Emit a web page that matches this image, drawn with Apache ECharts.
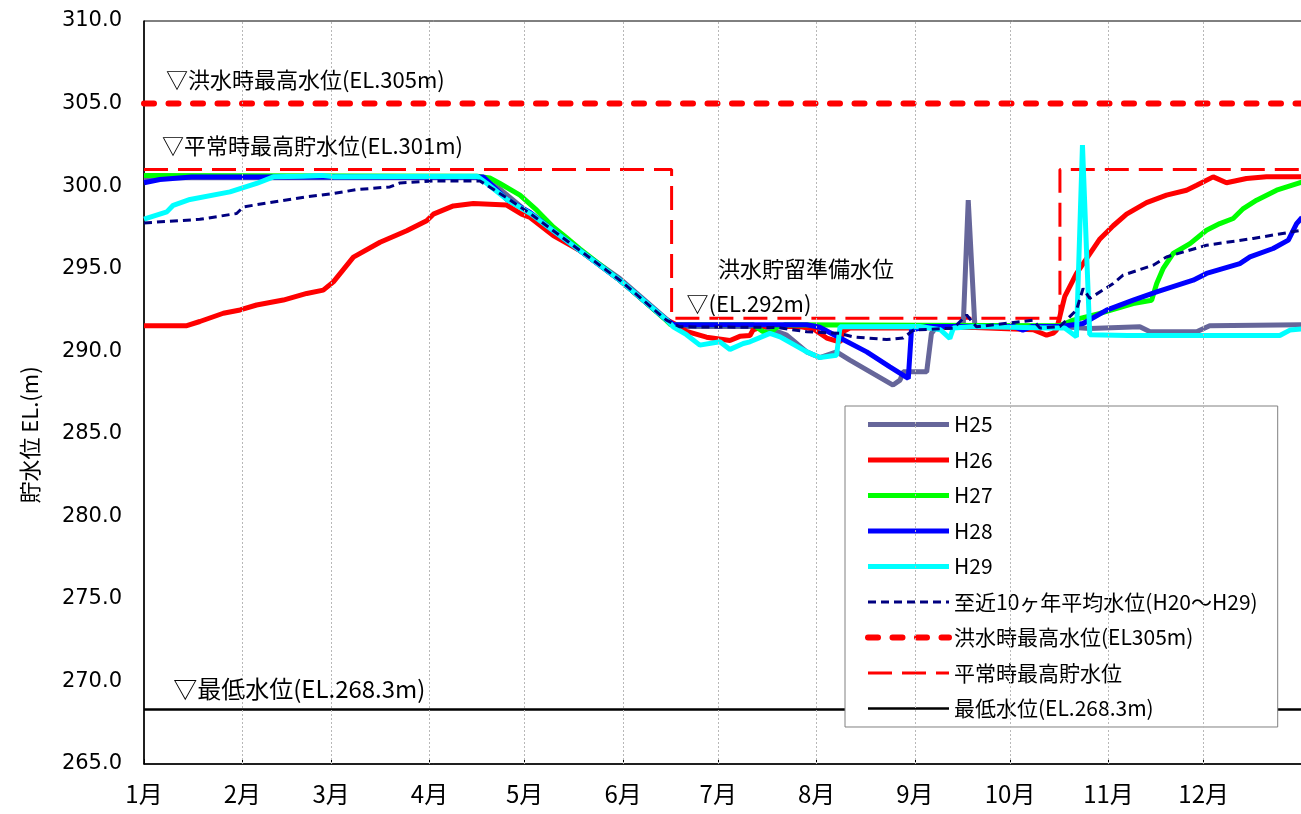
<!DOCTYPE html>
<html>
<head>
<meta charset="utf-8">
<script src="https://cdn.jsdelivr.net/npm/echarts@6/dist/echarts.min.js"></script>
<style>
html, body { margin: 0; padding: 0; background: #fff; }
#chart { width: 1301px; height: 814px; }
</style>
</head>
<body>
<div id="chart"></div>
<script>
// x = day of year (1月1日 = 0)
var monthStarts = [0, 31, 59, 90, 120, 151, 181, 212, 243, 273, 304, 334]
var monthLabels = ['1月', '2月', '3月', '4月', '5月', '6月', '7月', '8月', '9月', '10月', '11月', '12月']

// 貯水位 [day, EL.m]
var h25 = [[0, 300.5], [105, 300.5], [108, 300.3], [112, 299.85], [121.7, 298.3], [126, 297.6], [130.1, 297.1], [131, 296.9], [137.4, 296.1], [150, 294.4], [164.7, 291.95], [167, 291.5], [195.2, 291.5], [198.3, 291.28], [202.6, 290.97], [208.9, 289.96], [213, 289.62], [218.3, 289.96], [222.5, 289.46], [236.1, 287.95], [238.3, 288.25], [239.3, 288.75], [246.7, 288.75], [248.2, 291.08], [249.8, 291.48], [258.2, 291.48], [259.8, 299.15], [261.9, 291.48], [288.7, 291.5], [298.1, 291.38], [313.9, 291.48], [317.1, 291.18], [331.8, 291.18], [335.9, 291.54], [365, 291.6]]
var h26 = [[0, 291.55], [13.5, 291.55], [17.6, 291.8], [25, 292.3], [30.3, 292.5], [35.5, 292.8], [43.9, 293.1], [51.3, 293.5], [56.5, 293.7], [59.7, 294.2], [66, 295.7], [74.4, 296.6], [82.8, 297.3], [89.1, 297.9], [91.2, 298.3], [97.5, 298.8], [103.8, 298.95], [114.3, 298.85], [119, 298.3], [121.7, 298.1], [129, 297.0], [137.4, 296.1], [150, 294.3], [164.7, 291.9], [168.9, 291.5], [171, 291.2], [177.3, 290.85], [184.7, 290.65], [187.8, 290.9], [191, 290.95], [192, 291.3], [195.2, 291.5], [206.7, 291.5], [211, 291.35], [215.2, 290.8], [219.4, 290.55], [220.4, 291.2], [222.5, 291.4], [240, 291.4], [260, 291.45], [280.3, 291.3], [284.5, 290.97], [286.6, 291.1], [287.6, 291.28], [290.2, 293.3], [293.9, 294.7], [298.1, 295.9], [301.3, 296.8], [305.5, 297.6], [309.7, 298.3], [316, 299.0], [322.3, 299.45], [328.6, 299.75], [331.8, 300.05], [337, 300.56], [341.2, 300.2], [347.5, 300.46], [353.8, 300.56], [365, 300.56]]
var h27 = [[0, 300.65], [105, 300.6], [109, 300.5], [112.2, 300.16], [118.5, 299.45], [123.8, 298.54], [129, 297.53], [133, 296.9], [137.4, 296.2], [150, 294.3], [164.7, 291.85], [166, 291.6], [192, 291.6], [195, 291.2], [197.3, 291.08], [199.4, 291.45], [202, 291.6], [288.7, 291.55], [292.9, 291.88], [301.3, 292.29], [311.8, 292.89], [317.6, 293.09], [319.2, 294.1], [321.2, 295.0], [324.4, 295.92], [329.7, 296.52], [334.9, 297.33], [339.1, 297.73], [343.3, 298.04], [346.5, 298.64], [350.7, 299.15], [357, 299.75], [365, 300.25]]
var h28 = [[0, 300.2], [5, 300.4], [15, 300.55], [107, 300.55], [114.3, 299.2], [121.7, 298.4], [129, 297.3], [137.4, 296.1], [150, 294.3], [164.7, 291.9], [167, 291.6], [208.9, 291.6], [213, 291.45], [219.4, 290.8], [227.8, 289.96], [235.1, 289.05], [240.9, 288.35], [241.9, 291.28], [246.7, 291.5], [274, 291.5], [277, 291.28], [280, 291.5], [288.7, 291.5], [296, 291.68], [303.4, 292.49], [311.8, 293.1], [319.2, 293.6], [330.7, 294.3], [334.9, 294.71], [345.4, 295.31], [348.6, 295.71], [355.9, 296.22], [360.7, 296.73], [363.3, 297.73], [365, 298.1]]
var h29 = [[0, 298.0], [7.2, 298.44], [9.2, 298.84], [14.5, 299.19], [27.1, 299.65], [30.3, 299.85], [35.5, 300.16], [40.8, 300.56], [50, 300.6], [56, 300.65], [60, 300.56], [105, 300.6], [108, 300.17], [114.3, 299.2], [121.7, 298.35], [129, 297.3], [137.4, 296.1], [150, 294.3], [164.7, 291.9], [166.8, 291.48], [171, 291.0], [175.2, 290.37], [181.5, 290.57], [184.7, 290.11], [188.9, 290.47], [191, 290.57], [197.3, 291.08], [200.5, 290.87], [208.9, 289.96], [213, 289.62], [218.3, 289.76], [219.4, 291.48], [244.6, 291.5], [251, 291.3], [254, 290.78], [255.1, 291.4], [262, 291.5], [285, 291.4], [290.2, 291.4], [293.9, 290.87], [295.8, 302.48], [298.1, 291.0], [310, 290.95], [358, 290.95], [361.2, 291.28], [365, 291.35]]
var avg10 = [[0, 297.77], [17.6, 297.99], [29.2, 298.34], [31.3, 298.74], [40.8, 299.04], [51.3, 299.35], [59.7, 299.55], [67, 299.79], [77.5, 299.95], [80.7, 300.19], [91.2, 300.31], [105.9, 300.31], [114.3, 299.3], [121.7, 298.34], [137.4, 296.1], [150, 294.3], [164.7, 291.88], [168.9, 291.48], [199.4, 291.44], [208.9, 291.18], [219.4, 291.08], [223.5, 290.87], [234.1, 290.71], [239.3, 290.8], [242.5, 291.28], [255.1, 291.4], [259.3, 292.19], [262.4, 291.48], [280.3, 291.88], [282.4, 291.4], [288.7, 291.5], [293.9, 292.49], [296, 293.8], [298.1, 293.2], [305.5, 294.1], [308.6, 294.61], [318.1, 295.21], [322.3, 295.71], [334.9, 296.42], [349.6, 296.83], [365, 297.33]]

// 基準水位
var floodMax = [[0, 305], [365, 305]]
var normalMax = [[0, 301], [166.3, 301], [166.3, 292], [288.7, 292], [288.7, 301], [365, 301]]
var minLevel = [[0, 268.3], [365, 268.3]]

var jpFont = '"Noto Sans CJK JP", "Noto Sans", sans-serif'

function lineSeries(name, data, color, width, type, cap) {
  return {
    name: name,
    type: 'line',
    data: data,
    symbol: 'none',
    showSymbol: false,
    silent: true,
    lineStyle: { color: color, width: width, type: type || 'solid', cap: cap || 'butt' },
    itemStyle: { color: color }
  }
}

// 注記は markPoint で座標に置く
function note(text, coord, size) {
  return {
    coord: coord,
    symbol: 'rect',
    symbolSize: 0,
    label: {
      show: true,
      position: 'right',
      distance: 0,
      formatter: text,
      color: '#000',
      fontSize: size,
      fontFamily: jpFont
    }
  }
}

var chart = echarts.init(document.getElementById('chart'))

var sFlood = lineSeries('洪水時最高水位(EL305m)', floodMax, '#ff0000', 6, [10, 14.5], 'round')
sFlood.markPoint = { silent: true, data: [note('▽洪水時最高水位(EL.305m)', [6.9, 306.43], 22)] }

var sNormal = lineSeries('平常時最高貯水位', normalMax, '#ff0000', 3, [24, 10])
sNormal.markPoint = {
  silent: true,
  data: [
    note('▽平常時最高貯水位(EL.301m)', [5.7, 302.43], 22),
    note('洪水貯留準備水位', [180.9, 295.02], 22),
    note('▽(EL.292m)', [171, 292.9], 22)
  ]
}

var sMin = lineSeries('最低水位(EL.268.3m)', minLevel, '#000000', 2.5)
sMin.markPoint = { silent: true, data: [note('▽最低水位(EL.268.3m)', [9.2, 269.54], 24)] }
// 月の区切り線
sMin.markLine = {
  silent: true,
  symbol: 'none',
  label: { show: false },
  lineStyle: { color: '#b8b8b8', width: 1, type: [2, 2] },
  data: monthStarts.slice(1).map(function(d) {
    return { xAxis: d }
  })
}

var option = {
  animation: false,
  backgroundColor: '#fff',
  grid: {
    left: 144,
    right: -1,
    top: 21,
    bottom: 50,
    show: true,
    borderColor: '#000',
    borderWidth: 1,
    outerBoundsMode: 'none'
  },
  legend: {
    orient: 'vertical',
    left: 845,
    top: 406,
    backgroundColor: '#fff',
    borderColor: '#808080',
    borderWidth: 1,
    padding: [8, 20, 8, 20],
    itemWidth: 81,
    itemHeight: 20,
    itemGap: 14.5,
    itemStyle: { opacity: 0, borderWidth: 0 },
    lineStyle: { width: 'inherit' },
    textStyle: { fontSize: 21, color: '#000', fontFamily: jpFont },
    data: ['H25', 'H26', 'H27', 'H28', 'H29', '至近10ヶ年平均水位(H20〜H29)', '洪水時最高水位(EL305m)', '平常時最高貯水位', '最低水位(EL.268.3m)']
  },
  graphic: [
    {
      type: 'text',
      x: 30,
      y: 435,
      rotation: Math.PI / 2,
      style: {
        text: '貯水位 EL.(m)',
        fontSize: 22,
        fontFamily: jpFont,
        fill: '#000',
        align: 'center',
        verticalAlign: 'middle'
      }
    }
  ],
  xAxis: {
    type: 'value',
    min: 0,
    max: 365,
    axisLine: { lineStyle: { color: '#000', width: 1.5 } },
    axisTick: {
      inside: true,
      length: 5,
      customValues: monthStarts,
      lineStyle: { color: '#000' }
    },
    axisLabel: {
      customValues: monthStarts,
      formatter: function(v) {
        return monthLabels[monthStarts.indexOf(v)]
      },
      margin: 18,
      fontSize: 24,
      color: '#000',
      fontFamily: jpFont
    },
    splitLine: { show: false }
  },
  yAxis: {
    type: 'value',
    min: 265,
    max: 310,
    interval: 5,
    axisLine: { show: true, lineStyle: { color: '#000', width: 1.5 } },
    axisTick: { show: false },
    splitLine: { show: false },
    axisLabel: {
      formatter: function(v) {
        return v.toFixed(1)
      },
      margin: 22,
      fontSize: 21,
      color: '#000',
      fontFamily: '"DejaVu Sans", sans-serif'
    }
  },
  series: [
    sMin,
    sFlood,
    sNormal,
    lineSeries('H25', h25, '#66669a', 5),
    lineSeries('H26', h26, '#ff0000', 5),
    lineSeries('H27', h27, '#00ff00', 5),
    lineSeries('H28', h28, '#0000ff', 5),
    lineSeries('H29', h29, '#00ffff', 5),
    lineSeries('至近10ヶ年平均水位(H20〜H29)', avg10, '#000080', 3, [8, 5])
  ]
}

chart.setOption(option)
</script>
</body>
</html>
